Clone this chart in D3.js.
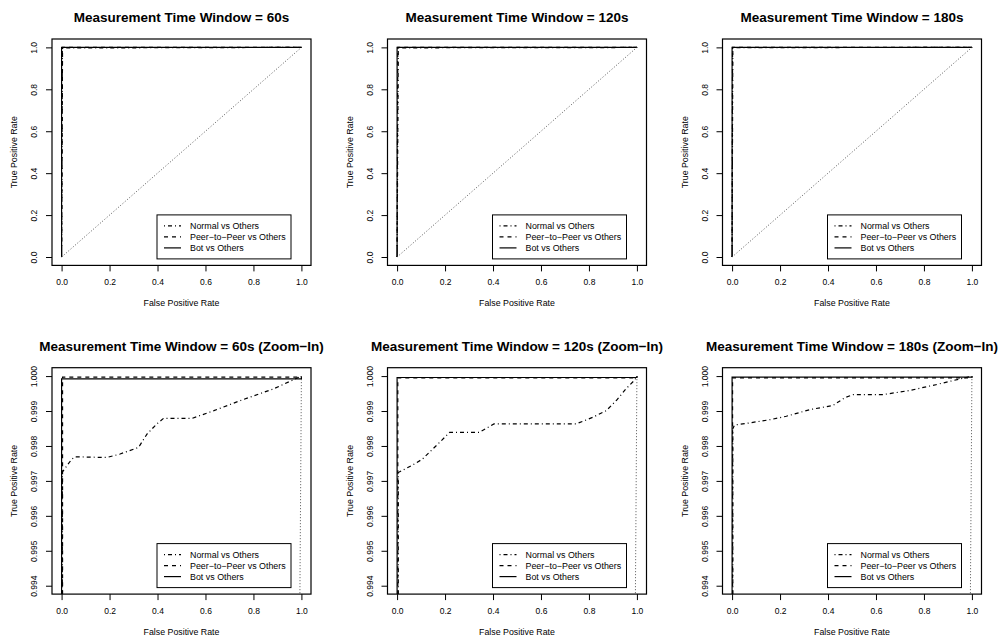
<!DOCTYPE html>
<html>
<head>
<meta charset="utf-8">
<script src="https://cdn.jsdelivr.net/npm/d3@7"></script>
<style>
  body { margin: 0; background: #fff; }
  svg { display: block; font-family: "Liberation Sans", Arial, Helvetica, sans-serif; }
</style>
</head>
<body>
<svg width="1000" height="636"></svg>
<script>
const windows = ['60s', '120s', '180s'];
const legendLabels = ['Normal vs Others', 'Peer\u2212to\u2212Peer vs Others', 'Bot vs Others'];
const xTicks = [0, 0.2, 0.4, 0.6, 0.8, 1.0];
const fullTicks = [0, 0.2, 0.4, 0.6, 0.8, 1.0];
const zoomTicks = [0.994, 0.995, 0.996, 0.997, 0.998, 0.999, 1.000];
const diagonal = [[0, 0], [1, 1]];

// ROC points, [false positive rate, true positive rate]
const normal60 = [[0, 0], [0.003, 0.99725], [0.042, 0.99762], [0.056, 0.99769], [0.188, 0.99767],
  [0.244, 0.99777], [0.321, 0.99796], [0.356, 0.99834], [0.397, 0.99863], [0.425, 0.99879],
  [0.544, 0.99879], [0.635, 0.99901], [0.746, 0.99930], [0.886, 0.99964], [1, 1]];
const normal120 = [[0, 0], [0.005, 0.99724], [0.063, 0.99745], [0.105, 0.99762], [0.174, 0.99808],
  [0.219, 0.99839], [0.342, 0.99839], [0.404, 0.99863], [0.746, 0.99863], [0.816, 0.99882],
  [0.872, 0.99901], [0.914, 0.99930], [0.955, 0.99964], [0.990, 0.99988], [1, 1]];
const normal180 = [[0, 0], [0.003, 0.99849], [0.010, 0.99860], [0.073, 0.99866], [0.156, 0.99875],
  [0.226, 0.99885], [0.324, 0.99904], [0.421, 0.99916], [0.470, 0.99938], [0.505, 0.99947],
  [0.630, 0.99947], [0.742, 0.99959], [0.854, 0.99976], [1, 1]];

const peer60 = [[0, 0], [0.004, 0.99997], [1, 0.99997], [1, 1]];
const peer120 = [[0, 0], [0.003, 0.99995], [1, 0.99995], [1, 1]];
const peer180 = [[0, 0], [0.002, 0.99995], [1, 0.99995], [1, 1]];

const bot60 = [[0, 0], [0, 0.99992], [1, 0.99992], [1, 1]];
const bot120 = [[0, 0], [0, 0.99996], [1, 0.99996], [1, 1]];
const bot180 = [[0, 0], [0, 0.99997], [1, 0.99997], [1, 1]];

const normalSeries = [normal60, normal120, normal180];
const peerSeries = [peer60, peer120, peer180];
const botSeries = [bot60, bot120, bot180];
const dashes = ['1,3,4,3', '4,4', null];

var svg = d3.select('svg'),
    colLeft = [52, 387.5, 722.5],
    rowTop = [39, 367.7],
    boxW = 259,
    boxH = 226.4;

[false, true].forEach((zoomed, r) => {
  windows.forEach((w, c) => {
    const left = colLeft[c], top = rowTop[r];
    const yDom = zoomed ? [0.994, 1.0] : [0, 1];
    const pad = (yDom[1] - yDom[0]) * 0.04;

    const x = d3.scaleLinear().domain([-0.04, 1.04]).range([left, left + boxW]);
    const y = d3.scaleLinear().domain([yDom[0] - pad, yDom[1] + pad]).range([top + boxH, top]);

    const line = d3.line()
      .x(d => x(d[0]))
      .y(d => y(d[1]));

    const clipId = `clip-${r}-${c}`;
    svg.append('clipPath').attr('id', clipId)
      .append('rect')
      .attr('x', left).attr('y', top)
      .attr('width', boxW).attr('height', boxH);

    const g = svg.append('g');

    // curves
    const plot = g.append('g').attr('clip-path', `url(#${clipId})`);
    [normalSeries[c], peerSeries[c], botSeries[c]].forEach((data, i) => {
      plot.append('path')
        .datum(data)
        .attr('fill', 'none')
        .attr('stroke', '#000')
        .attr('stroke-width', 1.2)
        .attr('stroke-dasharray', dashes[i])
        .attr('d', line);
    });
    plot.append('path')
      .datum(diagonal)
      .attr('fill', 'none')
      .attr('stroke', '#555')
      .attr('stroke-width', 1)
      .attr('stroke-dasharray', '1,2')
      .attr('d', line);

    // box
    g.append('rect')
      .attr('x', left).attr('y', top)
      .attr('width', boxW).attr('height', boxH)
      .attr('fill', 'none')
      .attr('stroke', '#000')
      .attr('stroke-width', 1.2);

    // axes
    const xAxis = g.append('g')
      .attr('transform', `translate(0,${top + boxH})`)
      .call(d3.axisBottom(x).tickValues(xTicks).tickFormat(d3.format('.1f')).tickSize(6).tickPadding(8));
    xAxis.select('.domain').remove();
    xAxis.selectAll('text').attr('font-size', 8.5).attr('fill', '#000').attr('font-family', null);

    const yAxis = g.append('g')
      .attr('transform', `translate(${left},0)`)
      .call(d3.axisLeft(y)
        .tickValues(zoomed ? zoomTicks : fullTicks)
        .tickFormat(d3.format(zoomed ? '.3f' : '.1f'))
        .tickSize(6));
    yAxis.select('.domain').remove();
    yAxis.selectAll('text')
      .attr('font-size', 8.5).attr('fill', '#000').attr('font-family', null)
      .attr('x', null).attr('dy', null)
      .attr('text-anchor', 'middle')
      .attr('transform', 'translate(-15,0) rotate(-90)');
    g.selectAll('.tick line').attr('stroke', '#000');

    // titles
    g.append('text')
      .attr('x', left + boxW / 2)
      .attr('y', top - 16.7)
      .attr('text-anchor', 'middle')
      .attr('font-size', 13.5)
      .attr('font-weight', 'bold')
      .text(`Measurement Time Window = ${w}` + (zoomed ? ' (Zoom\u2212In)' : ''));

    g.append('text')
      .attr('x', left + boxW / 2)
      .attr('y', top + boxH + 41)
      .attr('text-anchor', 'middle')
      .attr('font-size', 8.8)
      .text('False Positive Rate');

    g.append('text')
      .attr('transform', `translate(${left - 35},${top + boxH / 2}) rotate(-90)`)
      .attr('text-anchor', 'middle')
      .attr('font-size', 8.8)
      .text('True Positive Rate');

    // legend
    const lw = 134, lh = 44;
    const legend = g.append('g')
      .attr('transform', `translate(${left + boxW - 20 - lw},${top + boxH - 6.5 - lh})`);
    legend.append('rect')
      .attr('width', lw).attr('height', lh)
      .attr('fill', '#fff')
      .attr('stroke', '#000')
      .attr('stroke-width', 1);
    legendLabels.forEach((label, i) => {
      const ly = 11 + i * 11;
      legend.append('line')
        .attr('x1', 7).attr('x2', 24)
        .attr('y1', ly).attr('y2', ly)
        .attr('stroke', '#000')
        .attr('stroke-width', 1.2)
        .attr('stroke-dasharray', dashes[i]);
      legend.append('text')
        .attr('x', 33).attr('y', ly)
        .attr('dy', '0.35em')
        .attr('font-size', 8.9)
        .text(label);
    });
  });
});
</script>
</body>
</html>
